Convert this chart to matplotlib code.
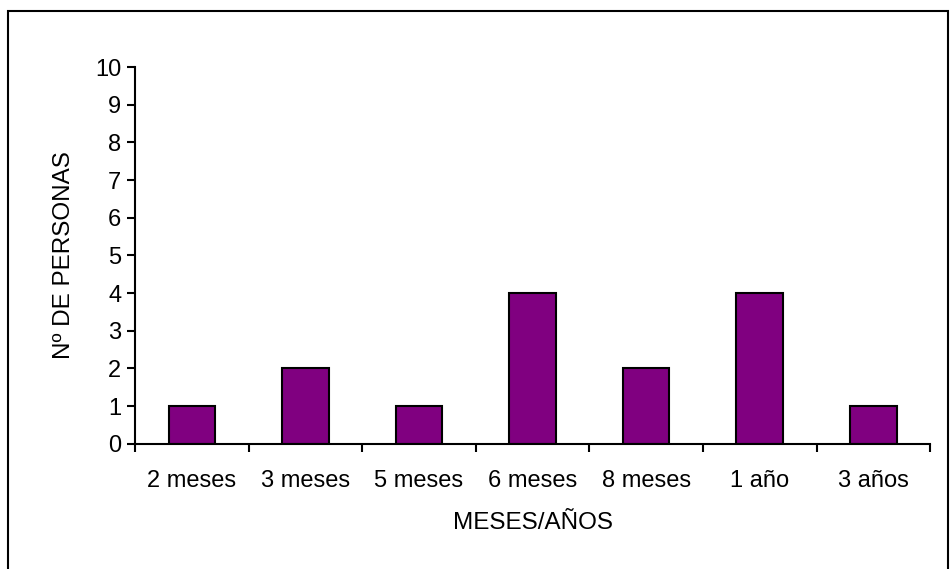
import matplotlib.pyplot as plt
from matplotlib.patches import Rectangle
import numpy as np

plt.rcParams["font.family"] = ["Liberation Sans", "DejaVu Sans"]

categories = ["2 meses", "3 meses", "5 meses", "6 meses", "8 meses", "1 año", "3 años"]
personas = [1, 2, 1, 4, 2, 4, 1]

fig = plt.figure(figsize=(9.51, 5.69), dpi=100)
ax = fig.add_axes([0.142, 0.22, 0.836, 0.662])

x = np.arange(len(categories))
ax.bar(x, personas, width=0.41, color="#800080", edgecolor="black", linewidth=1.5)

ax.set_xlim(-0.5, len(categories) - 0.5)
ax.set_ylim(0, 10)
ax.set_yticks(range(0, 11))
ax.set_xticks(x)
ax.set_xticklabels(categories)
ax.set_xticks(np.arange(-0.5, len(categories)), minor=True)

fs = 17
ax.tick_params(axis="x", which="major", length=0, pad=19, labelsize=fs)
ax.tick_params(axis="x", which="minor", length=6, width=1.5, direction="out")
ax.tick_params(axis="y", length=6, width=1.5, direction="out", pad=4, labelsize=fs)

for side in ["top", "right"]:
    ax.spines[side].set_visible(False)
for side in ["left", "bottom"]:
    ax.spines[side].set_linewidth(1.5)

ax.set_xlabel("MESES/AÑOS", fontsize=17.5, labelpad=14)
ax.set_ylabel("Nº DE PERSONAS", fontsize=17.5, labelpad=14)

# outer chart frame
fig.patches.append(Rectangle((8 / 951, -0.05), 940 / 951, 1.05 - 11 / 569,
                             transform=fig.transFigure, fill=False,
                             edgecolor="black", linewidth=1.5))

fig.savefig("out.png", dpi=100)
